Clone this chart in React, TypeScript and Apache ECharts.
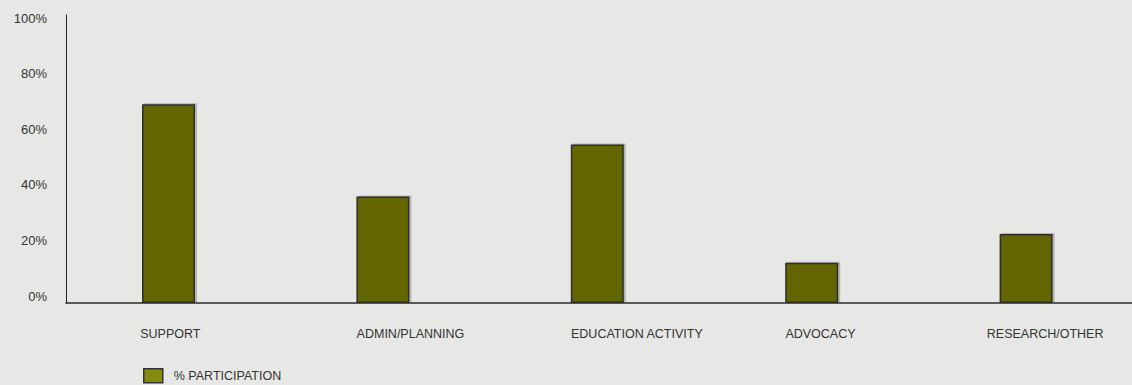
import React, { useEffect, useRef } from "react";
import * as echarts from "echarts";

const categories = ["SUPPORT", "ADMIN/PLANNING", "EDUCATION ACTIVITY", "ADVOCACY", "RESEARCH/OTHER"];
const participation = [69, 37, 55, 14, 24];
const seriesName = "% PARTICIPATION";
const yTickValues = [0, 20, 40, 60, 80, 100];

const FONT = "Liberation Sans, Arial, sans-serif";

export default function App() {
  const ref = useRef<HTMLDivElement>(null);
  useEffect(() => {
    document.body.style.margin = "0";
    const chart = echarts.init(ref.current!, null, { renderer: "svg" });
    const labelKey = (i: number) => (i === 0 ? "s" : i === categories.length - 1 ? "r" : "a");
    const tokenStyle = { fontSize: 12.5, color: "#333", fontFamily: FONT, align: "left" as const };
    chart.setOption({
      animation: false,
      backgroundColor: "#e7e8e6",
      textStyle: { fontFamily: FONT },
      grid: [
        { left: 66, top: 15, height: 288, width: 1072, outerBoundsMode: "none" },
        { left: 66, top: 18, height: 278, width: 10, outerBoundsMode: "none" },
      ],
      legend: {
        left: 138,
        top: 363,
        icon: "rect",
        itemWidth: 19,
        itemHeight: 14,
        data: [
          {
            name: seriesName,
            itemStyle: { color: "#848c0d", borderColor: "#333", borderWidth: 1.5 },
          },
        ],
        textStyle: { color: "#333", fontSize: 12.5, fontFamily: FONT, padding: [6, 0, 0, 6] },
      },
      xAxis: [
        {
          type: "category",
          gridIndex: 0,
          data: categories,
          axisLine: { show: true, lineStyle: { color: "#2a2a2a", width: 1.5 } },
          axisTick: { show: false },
          axisLabel: {
            interval: 0,
            margin: 24,
            align: "center",
            formatter: (v: string, i: number) => `{${labelKey(i)}|${v}}`,
            rich: {
              a: { ...tokenStyle, width: 62 },
              s: { ...tokenStyle, width: 66 },
              r: { ...tokenStyle, width: 88 },
            },
          },
        },
        { type: "value", gridIndex: 1, show: false, min: 0, max: 1 },
      ],
      yAxis: [
        {
          type: "value",
          gridIndex: 0,
          min: 0,
          max: 100,
          axisLine: { show: true, lineStyle: { color: "#222", width: 1 } },
          axisTick: { show: false },
          axisLabel: { show: false },
          splitLine: { show: false },
        },
        {
          type: "value",
          gridIndex: 1,
          min: yTickValues[0],
          max: yTickValues[yTickValues.length - 1],
          interval: 20,
          axisLine: { show: false },
          axisTick: { show: false },
          splitLine: { show: false },
          axisLabel: { formatter: "{value}%", margin: 19, fontSize: 13, color: "#333", fontFamily: FONT },
        },
      ],
      series: [
        {
          name: seriesName,
          type: "bar",
          xAxisIndex: 0,
          yAxisIndex: 0,
          data: participation,
          barWidth: 53,
          barGap: "0%",
          itemStyle: {
            color: "#636600",
            borderColor: "#2e2e2e",
            borderWidth: 1.5,
            shadowColor: "rgba(0,0,0,0.22)",
            shadowOffsetX: 2,
            shadowOffsetY: -1,
            shadowBlur: 0,
          },
        },
        {
          name: "spacer",
          type: "bar",
          xAxisIndex: 0,
          yAxisIndex: 0,
          data: categories.map(() => "-"),
          barWidth: 9.4,
          barGap: "0%",
          silent: true,
        },
      ],
    });
    return () => chart.dispose();
  }, []);
  return <div ref={ref} style={{ width: 1132, height: 385 }} />;
}
